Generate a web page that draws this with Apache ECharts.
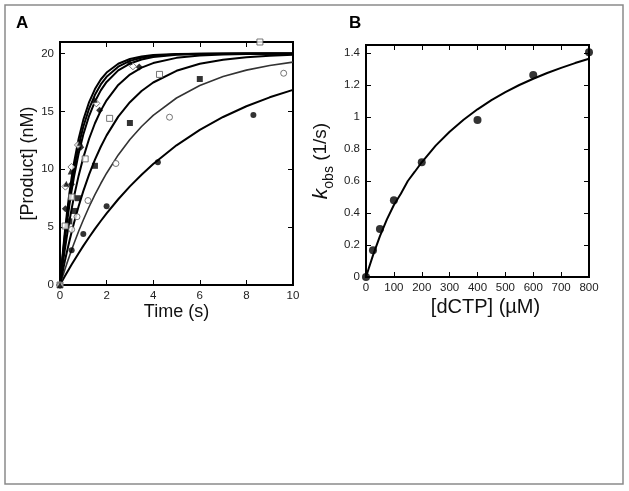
<!DOCTYPE html>
<html>
<head>
<meta charset="utf-8">
<script src="https://cdn.jsdelivr.net/npm/echarts@6/dist/echarts.min.js"></script>
<style>
html,body{margin:0;padding:0;background:#fff;}
#chart{width:629px;height:491px;}
</style>
</head>
<body>
<div id="chart"></div>
<script>
// ---------- Panel A: fitted time courses ----------
const timeGrid = [0, 0.1, 0.2, 0.3, 0.4, 0.5, 0.6, 0.8, 1, 1.25, 1.5, 1.75, 2, 2.5, 3, 3.5, 4, 5, 6, 7, 8, 9, 10];
const fit25  = [0, 0.37, 0.73, 1.08, 1.43, 1.77, 2.10, 2.75, 3.38, 4.13, 4.85, 5.53, 6.19, 7.41, 8.52, 9.53, 10.46, 12.07, 13.41, 14.52, 15.45, 16.22, 16.86];
const fit50  = [0, 0.65, 1.28, 1.89, 2.47, 3.04, 3.59, 4.64, 5.62, 6.76, 7.81, 8.77, 9.66, 11.24, 12.57, 13.70, 14.66, 16.16, 17.24, 18.01, 18.57, 18.97, 19.26];
const fit100 = [0, 1.01, 1.98, 2.89, 3.76, 4.58, 5.36, 6.81, 8.11, 9.56, 10.83, 11.95, 12.93, 14.55, 15.80, 16.76, 17.50, 18.51, 19.12, 19.47, 19.69, 19.81, 19.89];
const fit200 = [0, 1.54, 2.96, 4.27, 5.48, 6.59, 7.62, 9.45, 11.01, 12.64, 13.98, 15.07, 15.96, 17.29, 18.19, 18.78, 19.18, 19.63, 19.84, 19.93, 19.97, 19.99, 19.99];
const fit400 = [0, 1.99, 3.79, 5.40, 6.86, 8.17, 9.35, 11.37, 13.00, 14.62, 15.86, 16.82, 17.55, 18.55, 19.14, 19.49, 19.70, 19.90, 19.96, 19.99, 20, 20, 20];
const fit600 = [0, 2.17, 4.11, 5.84, 7.37, 8.75, 9.97, 12.03, 13.67, 15.25, 16.44, 17.33, 17.99, 18.87, 19.37, 19.64, 19.80, 19.94, 19.98, 19.99, 20, 20, 20];
const fit800 = [0, 2.35, 4.42, 6.25, 7.87, 9.29, 10.55, 12.64, 14.27, 15.81, 16.93, 17.76, 18.36, 19.12, 19.53, 19.75, 19.87, 19.96, 19.99, 20, 20, 20, 20];

// ---------- Panel A: data points (time s, product nM) ----------
const pts25  = [[0,0],[0.5,3.0],[1.0,4.4],[2.0,6.8],[4.2,10.6],[8.3,14.7]];
const pts50  = [[0,0],[0.5,4.8],[0.73,5.9],[1.2,7.3],[2.4,10.5],[4.7,14.5],[9.6,18.3]];
const pts100 = [[0,0],[0.4,5.5],[0.6,6.4],[0.77,7.5],[1.5,10.3],[3.0,14.0],[6.0,17.8]];
const pts200 = [[0,0],[0.22,5.1],[0.5,7.6],[1.08,10.9],[2.13,14.4],[4.27,18.2],[8.58,21.0]];
const pts400 = [[0,0],[0.23,6.6],[0.49,8.7],[0.89,11.9],[1.7,15.1],[3.4,18.85]];
const pts600 = [[0,0],[0.23,8.5],[0.49,10.2],[0.77,12.1],[1.56,15.7],[3.13,18.9]];
const pts800 = [[0,0],[0.27,8.75],[0.46,9.8],[0.86,12.3],[1.49,16.0],[2.99,19.3]];

// ---------- Panel B ----------
const dctpConc = [0, 25, 50, 100, 200, 400, 600, 800];
const kobs     = [0, 0.167, 0.30, 0.48, 0.717, 0.982, 1.262, 1.404];
const fitConc  = [0, 10, 25, 50, 75, 100, 125, 150, 175, 200, 250, 300, 350, 400, 450, 500, 550, 600, 650, 700, 750, 800];
const fitKobs  = [0, 0.055, 0.135, 0.255, 0.36, 0.45, 0.52, 0.60, 0.658, 0.717, 0.821, 0.908, 0.983, 1.048, 1.105, 1.155, 1.200, 1.239, 1.275, 1.307, 1.337, 1.364];

const xTicksA = {min: 0, max: 10, interval: 2};
const yTicksA = {min: 0, max: 21, interval: 5};
const xTicksB = {min: 0, max: 800, interval: 100};
const yTicksB = {min: 0, max: 1.45, interval: 0.2};

const FONT = '"Liberation Sans", Arial, sans-serif';
const zip = (xs, ys) => xs.map((x, i) => [x, ys[i]]);

const grids = [
  {left: 60, top: 42, width: 233, height: 243},
  {left: 366, top: 45, width: 223, height: 232}
];

function mainX(gi, t, name, nameSize, nameGap, pad) {
  return {
    type: 'value', gridIndex: gi, min: t.min, max: t.max, interval: t.interval,
    name: name, nameLocation: 'middle', nameGap: nameGap,
    nameTextStyle: {fontFamily: FONT, fontSize: nameSize, color: '#111', padding: pad || 0},
    axisLine: {show: true, lineStyle: {color: '#000', width: 2}},
    axisTick: {show: true, inside: true, length: 5, lineStyle: {color: '#000', width: 1}},
    axisLabel: {fontFamily: FONT, fontSize: 11.5, color: '#222', margin: 5, showMaxLabel: true},
    splitLine: {show: false}
  };
}
function mainY(gi, t, name, nameSize, nameGap, rich, fmt) {
  const ax = {
    type: 'value', gridIndex: gi, min: t.min, max: t.max, interval: t.interval,
    name: name, nameLocation: 'middle', nameGap: nameGap,
    nameTextStyle: {fontFamily: FONT, fontSize: nameSize, color: '#111'},
    axisLine: {show: true, lineStyle: {color: '#000', width: 2}},
    axisTick: {show: true, inside: true, length: 5, lineStyle: {color: '#000', width: 1}},
    axisLabel: {fontFamily: FONT, fontSize: 11.5, color: '#222', margin: 6, showMaxLabel: false, formatter: fmt},
    splitLine: {show: false}
  };
  if (rich) ax.nameTextStyle.rich = rich;
  return ax;
}
function mirror(gi, t, pos) {
  return {
    type: 'value', gridIndex: gi, min: t.min, max: t.max, interval: t.interval, position: pos,
    axisLine: {show: true, onZero: false, lineStyle: {color: '#000', width: 2}},
    axisTick: {show: true, inside: true, length: 5, lineStyle: {color: '#000', width: 1}},
    axisLabel: {show: false}, splitLine: {show: false}
  };
}

const kRich = {
  k: {fontFamily: FONT, fontStyle: 'italic', fontSize: 21, lineHeight: 30, verticalAlign: 'middle', color: '#111'},
  s: {fontFamily: FONT, fontSize: 14, lineHeight: 14, verticalAlign: 'bottom', color: '#111'},
  n: {fontFamily: FONT, fontSize: 19, lineHeight: 30, verticalAlign: 'middle', color: '#111'}
};

function curve(data, color, width) {
  return {type: 'line', xAxisIndex: 0, yAxisIndex: 0, data: data, showSymbol: false, smooth: false,
    lineStyle: {color: color, width: width}, silent: true, z: 2};
}
function pts(data, symbol, filled, size) {
  return {type: 'scatter', xAxisIndex: 0, yAxisIndex: 0, data: data, symbol: symbol, symbolSize: size,
    itemStyle: filled ? {color: '#000'} : {color: '#fff', borderColor: '#555', borderWidth: 1}, z: 3};
}

const option = {
  backgroundColor: '#fff',
  animation: false,
  grid: grids.map(g => Object.assign({show: true, borderColor: '#000', borderWidth: 2, backgroundColor: 'transparent'}, g)),
  xAxis: [
    mainX(0, xTicksA, 'Time (s)', 18, 16),
    mainX(1, xTicksB, '[dCTP] (\u00b5M)', 20, 20, [0, 0, 0, 16]),
    mirror(0, xTicksA, 'top'),
    mirror(1, xTicksB, 'top')
  ],
  yAxis: [
    mainY(0, yTicksA, '[Product] (nM)', 18, 23),
    mainY(1, yTicksB, '{k|k}{s|obs}{n| (1/s)}', 19, 30, kRich, v => (Math.round(v * 10) / 10).toString()),
    mirror(0, yTicksA, 'right'),
    mirror(1, yTicksB, 'right')
  ],
  series: [
    curve(zip(timeGrid, fit25), '#000', 2),
    curve(zip(timeGrid, fit50), '#333', 1.6),
    curve(zip(timeGrid, fit100), '#000', 2),
    curve(zip(timeGrid, fit200), '#000', 2),
    curve(zip(timeGrid, fit400), '#000', 2),
    curve(zip(timeGrid, fit600), '#000', 2),
    curve(zip(timeGrid, fit800), '#000', 2),
    pts(pts25, 'circle', true, 6),
    pts(pts50, 'circle', false, 6),
    pts(pts100, 'rect', true, 6),
    pts(pts200, 'rect', false, 6),
    pts(pts400, 'diamond', true, 7),
    pts(pts600, 'diamond', false, 7),
    pts(pts800, 'triangle', true, 6),
    {type: 'line', xAxisIndex: 1, yAxisIndex: 1, data: zip(fitConc, fitKobs), showSymbol: false, smooth: false,
      lineStyle: {color: '#000', width: 2}, z: 2},
    {type: 'scatter', xAxisIndex: 1, yAxisIndex: 1, data: zip(dctpConc, kobs), symbol: 'circle', symbolSize: 8,
      itemStyle: {color: '#000'}, clip: false, z: 3}
  ],
  graphic: [
    {type: 'rect', shape: {x: 5, y: 5, width: 618, height: 479}, style: {fill: 'none', stroke: '#8a8a8a', lineWidth: 1.5}, silent: true},
    {type: 'text', left: 16, top: 15, style: {text: 'A', font: 'bold 17px "Liberation Sans", Arial, sans-serif', fill: '#000'}},
    {type: 'text', left: 349, top: 15, style: {text: 'B', font: 'bold 17px "Liberation Sans", Arial, sans-serif', fill: '#000'}}
  ]
};

const chart = echarts.init(document.getElementById('chart'), null, {renderer: 'canvas'});
chart.setOption(option);
</script>
</body>
</html>
